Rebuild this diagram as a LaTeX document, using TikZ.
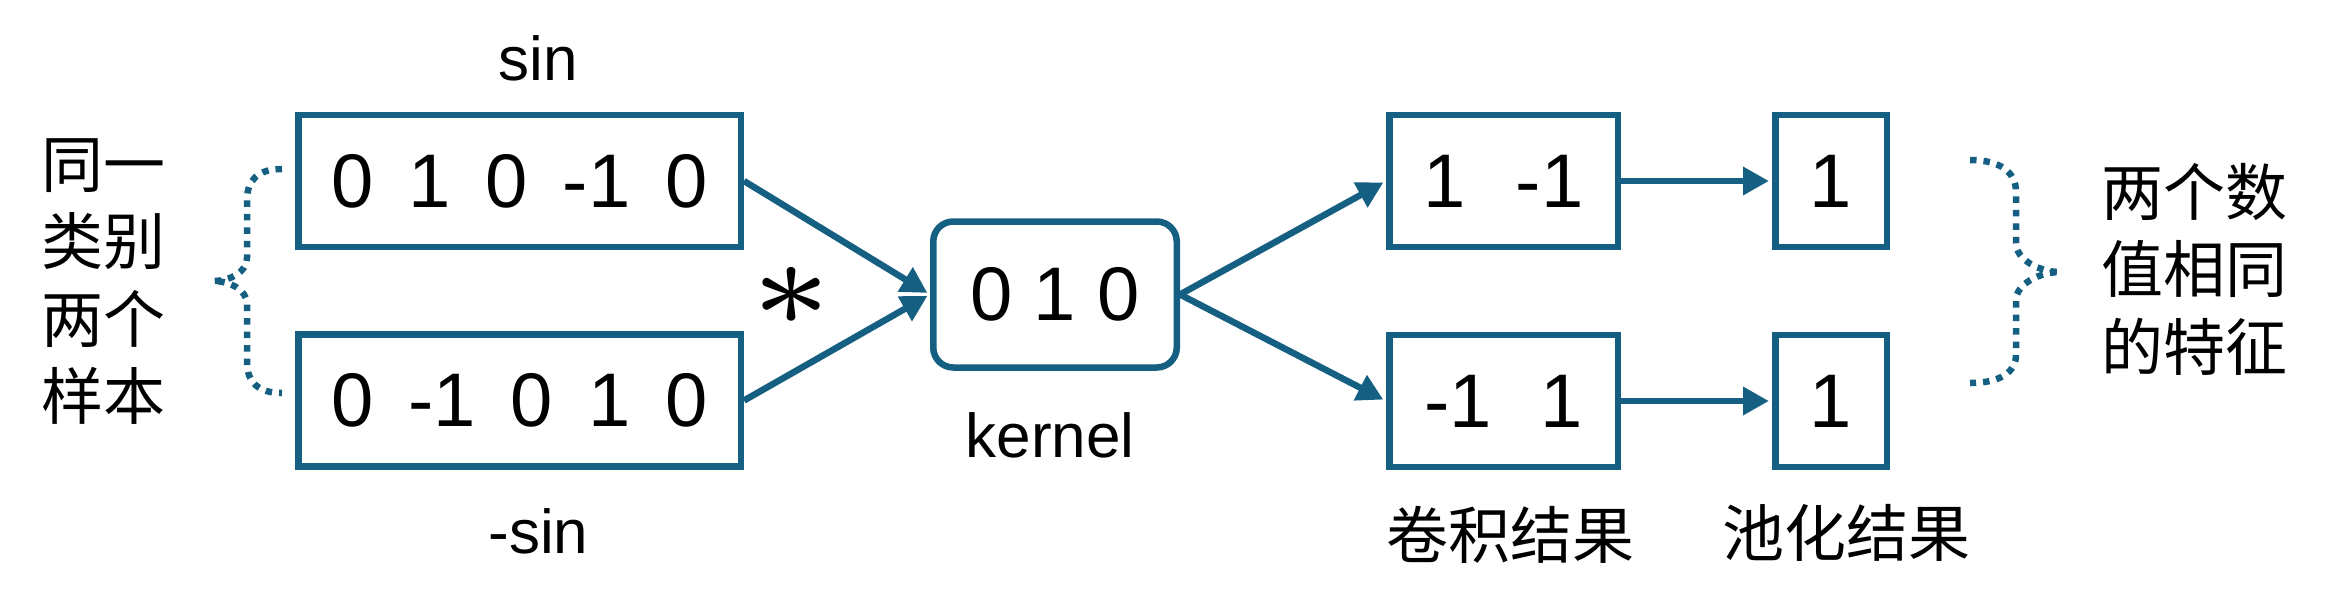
\documentclass[tikz,border=0pt]{standalone}
\usepackage{fontspec}
\setmainfont{Liberation Sans}
\newfontfamily\cjk{Noto Sans CJK SC}
\usetikzlibrary{arrows.meta}
\definecolor{accent}{HTML}{156082}
\begin{document}
\begin{tikzpicture}[x=1pt,y=-1pt,
  box/.style={draw=accent, line width=6.5pt, minimum height=132pt, inner sep=0pt,
    font=\fontsize{76}{80}\selectfont},
  lbl/.style={font=\fontsize{62}{70}\selectfont, inner sep=0pt},
  cjklbl/.style={font=\cjk\fontsize{62}{77.5}\selectfont, inner sep=0pt, align=center},
  conn/.style={draw=accent, line width=6.5pt, shorten >=3pt,
    -{Triangle[length=26pt,width=27pt]}},
  brace/.style={draw=accent, line width=6.5pt, dash pattern=on 6.5pt off 7pt},
  astlbl/.style={inner sep=0pt, scale=25}
]
\useasboundingbox (0,0) rectangle (2329,611);

% input samples
\node[box, minimum width=442.5pt] (s1) at (519.5,181) {\spaceskip=35pt\relax 0 1 0 -1 0};
\node[box, minimum width=442.5pt] (s2) at (519.5,400.5) {\spaceskip=35pt\relax 0 -1 0 1 0};
\node[lbl, anchor=base] (sin) at (538.5,80) {sin};
\node[lbl, anchor=base] (msin) at (538.5,553) {-sin};

% kernel
\node[box, rounded corners=20pt, minimum width=243.5pt, minimum height=146pt] (k) at (1055,294.5) {0 1 0};
\node[lbl, anchor=base] (kl) at (1050,457) {kernel};
\node[astlbl] (star) at (791,296) {$\scriptscriptstyle\ast$};

% convolution results
\node[box, minimum width=228.5pt] (c1) at (1503.5,181) {1\hspace{50pt}-1};
\node[box, minimum width=228.5pt] (c2) at (1503.5,401) {-1\hspace{49pt}1};
% pooling results
\node[box, minimum width=111.5pt] (p1) at (1831,181) {1};
\node[box, minimum width=111.5pt] (p2) at (1831,401) {1};

% CJK labels
\node[cjklbl] (lt) at (103,281.5) {同一\\类别\\两个\\样本};
\node[cjklbl] (rt) at (2194,269) {两个数\\值相同\\的特征};
\node[cjklbl] (cl) at (1510,535) {卷积结果};
\node[cjklbl] (pl) at (1846,533) {池化结果};

% connectors
\draw[conn] (s1.east) -- (k.west);
\draw[conn] (s2.east) -- (k.west);
\draw[conn] (k.east) -- (c1.west);
\draw[conn] (k.east) -- (c2.west);
\draw[conn] (c1.east) -- (p1.west);
\draw[conn] (c2.east) -- (p2.west);

% braces
\draw[brace] (282,169) .. controls (258,169) and (247,180) .. (247,200) -- (247,258)
  .. controls (247,272) and (230,281) .. (213,281)
  .. controls (230,281) and (247,290) .. (247,304) -- (247,362)
  .. controls (247,382) and (258,393) .. (282,393);
\draw[brace] (1970,160) .. controls (2000,160) and (2016,172) .. (2016,192) -- (2016,243)
  .. controls (2016,260) and (2040,272) .. (2060,272)
  .. controls (2040,272) and (2016,284) .. (2016,300) -- (2016,355)
  .. controls (2016,372) and (2000,383) .. (1970,383);
\end{tikzpicture}
\end{document}
